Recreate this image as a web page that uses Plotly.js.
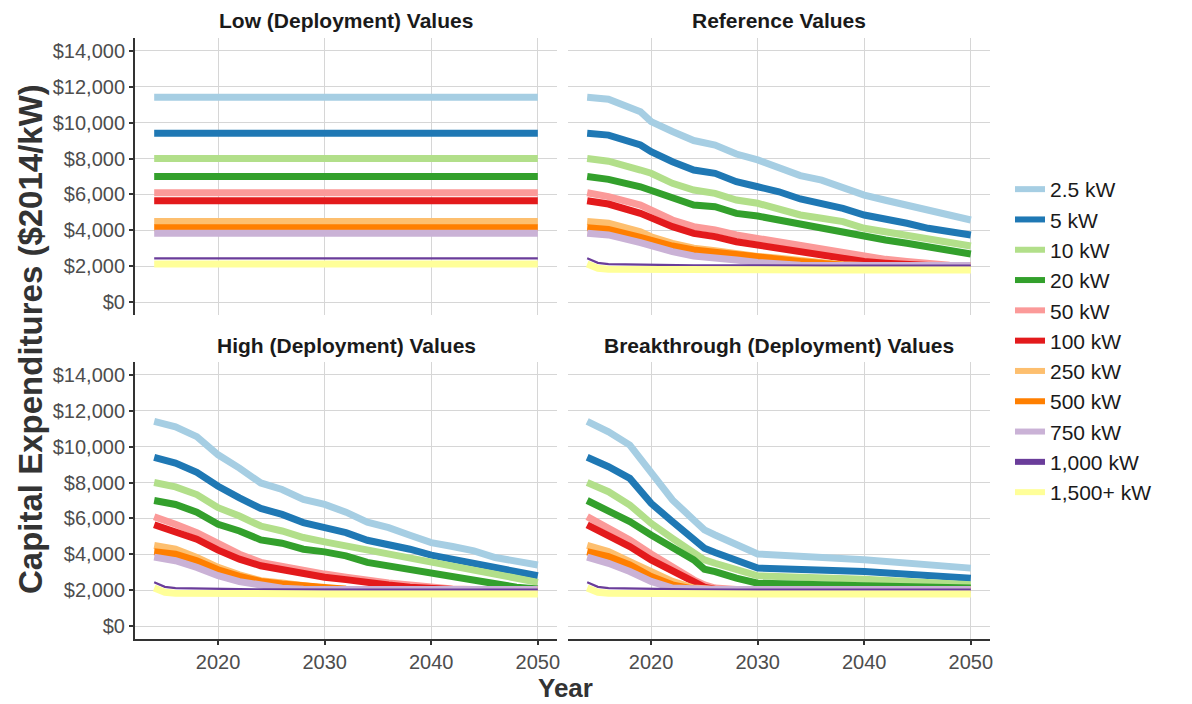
<!DOCTYPE html>
<html>
<head>
<meta charset="utf-8">
<script src="https://cdn.plot.ly/plotly-3.0.1.min.js"></script>
<style>html,body{margin:0;padding:0;background:#fff;}#chart{width:1192px;height:704px;}</style>
</head>
<body>
<div id="chart"></div>
<script>
// ---------- data ----------
const sizes = ['2.5 kW','5 kW','10 kW','20 kW','50 kW','100 kW','250 kW','500 kW','750 kW','1,000 kW','1,500+ kW'];
const panelTitles = ['Low (Deployment) Values','Reference Values','High (Deployment) Values','Breakthrough (Deployment) Values'];
const xTickVals = [2020, 2030, 2040, 2050];
const yTickVals = [0, 2000, 4000, 6000, 8000, 10000, 12000, 14000];
const yTickText = ['$0','$2,000','$4,000','$6,000','$8,000','$10,000','$12,000','$14,000'];

const lowYears = [2014, 2050];
const lowValues = [
  [11400, 11400], [9400, 9400], [8000, 8000], [7000, 7000], [6100, 6100], [5650, 5650],
  [4500, 4500], [4150, 4150], [3850, 3850], [2450, 2450], [2130, 2130]
];

const refYears = [2014,2015,2016,2019,2020,2022,2024,2026,2028,2030,2032,2034,2036,2038,2040,2042,2044,2046,2048,2050];
const refValues = [
  [11400,11350,11300,10600,10050,9500,9000,8750,8250,7920,7450,7050,6800,6350,5970,5680,5400,5050,4800,4580],
  [9400,9350,9300,8750,8380,7820,7360,7175,6710,6430,6150,5750,5510,5230,4860,4670,4400,4120,3930,3750],
  [8000,7930,7850,7360,7180,6620,6250,6060,5690,5510,5230,4860,4680,4490,4120,3930,3750,3560,3320,3135],
  [7000,6920,6840,6430,6210,5790,5415,5320,4950,4800,4580,4265,4060,3875,3620,3470,3285,3100,2880,2690],
  [6100,6000,5880,5415,5135,4580,4210,4030,3750,3560,3375,3100,2950,2765,2580,2395,2270,2150,2060,2050],
  [5650,5560,5470,4950,4670,4210,3840,3660,3375,3190,3010,2765,2640,2460,2270,2180,2090,2050,2050,2050],
  [4500,4450,4400,3930,3650,3285,3010,2880,2690,2550,2460,2330,2220,2100,2050,2050,2050,2050,2050,2050],
  [4150,4100,4060,3620,3430,3135,2915,2765,2640,2510,2400,2270,2140,2070,2050,2050,2050,2050,2050,2050],
  [3850,3800,3750,3320,3135,2820,2580,2510,2360,2220,2130,2070,2050,2050,2050,2050,2050,2050,2050,2050],
  [2450,2200,2130,2090,2080,2070,2060,2060,2050,2050,2050,2050,2050,2050,2050,2050,2050,2050,2050,2050],
  [2130,1900,1850,1830,1820,1810,1800,1800,1800,1800,1800,1800,1800,1800,1800,1800,1800,1800,1800,1800]
];

const highYears = [2014,2015,2016,2018,2020,2022,2024,2026,2028,2030,2032,2034,2036,2038,2040,2042,2044,2046,2048,2050];
const highValues = [
  [11400,11250,11100,10550,9540,8800,7975,7610,7055,6780,6350,5800,5490,5070,4660,4440,4200,3830,3590,3410],
  [9400,9250,9080,8565,7790,7150,6560,6225,5770,5490,5215,4790,4570,4290,3960,3740,3560,3340,3040,2820],
  [8000,7880,7755,7330,6600,6135,5580,5305,4940,4700,4475,4200,3960,3780,3560,3340,3150,2910,2675,2450],
  [7000,6890,6780,6353,5675,5305,4810,4625,4290,4145,3925,3560,3370,3190,2910,2765,2600,2360,2180,2080],
  [6100,5850,5675,5215,4570,4016,3560,3340,3040,2910,2730,2540,2410,2300,2180,2080,2050,2050,2050,2050],
  [5650,5450,5305,4845,4238,3740,3370,3150,2870,2730,2600,2410,2300,2180,2080,2050,2050,2050,2050,2050],
  [4500,4400,4290,3830,3280,2870,2540,2410,2230,2120,2070,2050,2050,2050,2050,2050,2050,2050,2050,2050],
  [4150,4080,4015,3650,3150,2780,2500,2360,2230,2120,2060,2050,2050,2050,2050,2050,2050,2050,2050,2050],
  [3850,3750,3650,3280,2820,2490,2270,2120,2060,2050,2050,2050,2050,2050,2050,2050,2050,2050,2050,2050],
  [2450,2200,2130,2100,2080,2070,2060,2050,2050,2050,2050,2050,2050,2050,2050,2050,2050,2050,2050,2050],
  [2130,1900,1850,1830,1820,1810,1800,1800,1800,1800,1800,1800,1800,1800,1800,1800,1800,1800,1800,1800]
];

const brkYears = [2014,2015,2016,2018,2020,2022,2024,2025,2026,2028,2030,2040,2050];
const brkValues = [
  [11400,11100,10820,10080,8600,7030,5920,5365,5085,4530,4030,3700,3240],
  [9400,9150,8880,8230,6840,5825,4810,4345,4105,3700,3240,3050,2680],
  [8000,7750,7490,6750,5730,4900,4070,3700,3510,3140,2810,2625,2310],
  [7000,6730,6470,5825,5085,4440,3700,3180,3050,2680,2400,2255,2130],
  [6100,5780,5455,4810,4030,3290,2590,2310,2130,2050,2050,2050,2050],
  [5650,5370,5085,4440,3700,3105,2500,2180,2050,2050,2050,2050,2050],
  [4500,4330,4160,3600,3000,2500,2130,2050,2050,2050,2050,2050,2050],
  [4150,4020,3880,3420,2775,2310,2070,2050,2050,2050,2050,2050,2050],
  [3850,3680,3510,3050,2500,2130,2050,2050,2050,2050,2050,2050,2050],
  [2450,2200,2130,2100,2080,2070,2060,2050,2050,2050,2050,2050,2050],
  [2130,1900,1850,1830,1820,1810,1800,1800,1800,1800,1800,1800,1800]
];

// ---------- styles ----------
const colors = ['#a6cee3','#1f78b4','#b2df8a','#33a02c','#fb9a99','#e31a1c','#fdbf6f','#ff7f00','#cab2d6','#6a3d9a','#ffff99'];
const lineWidths = [7,7,7,7,7,7,7,7,7,2.2,7];
const FONT = 'Liberation Sans, Arial, sans-serif';

const panels = [
  {years: lowYears,  values: lowValues,  xa: 'x',  ya: 'y'},
  {years: refYears,  values: refValues,  xa: 'x2', ya: 'y2'},
  {years: highYears, values: highValues, xa: 'x3', ya: 'y3'},
  {years: brkYears,  values: brkValues,  xa: 'x4', ya: 'y4'}
];

const traces = [];
panels.forEach(p => {
  sizes.forEach((s, i) => {
    traces.push({
      type: 'scatter', mode: 'lines', name: s, showlegend: false,
      x: p.years, y: p.values[i], xaxis: p.xa, yaxis: p.ya,
      line: {color: colors[i], width: lineWidths[i]},
      hoverinfo: 'x+y+name'
    });
  });
});
// legend entries
sizes.forEach((s, i) => {
  traces.push({
    type: 'scatter', mode: 'lines', name: s, showlegend: true,
    x: [null], y: [null], xaxis: 'x', yaxis: 'y',
    line: {color: colors[i], width: 6}
  });
});

const W = 1192, H = 704;
const xL = [135/W, 557/W], xR = [568/W, 990/W];
const yT = [(H-315)/H, (H-38)/H], yB = [(H-639)/H, (H-362)/H];
const xRange = [2012.2, 2051.8], yRange = [-700, 14700];
const yTickFont = {family: FONT, size: 20, color: '#4d4d4d'};
const xTickFont = {family: FONT, size: 20, color: '#4d4d4d'};

function xa(domain, bottom) {
  return {
    domain: domain, range: xRange,
    tickvals: xTickVals, ticktext: xTickVals.map(String),
    showgrid: true, gridcolor: '#d6d6d6', gridwidth: 1, zeroline: false,
    showline: bottom, linecolor: '#333333', linewidth: 2,
    ticks: bottom ? 'outside' : '', ticklen: 4, tickwidth: 1.5, tickcolor: '#333333',
    showticklabels: bottom, tickfont: xTickFont, fixedrange: true
  };
}
function ya(domain, left) {
  return {
    domain: domain, range: yRange,
    tickvals: yTickVals, ticktext: yTickText,
    showgrid: true, gridcolor: '#d6d6d6', gridwidth: 1, zeroline: false,
    showline: left, linecolor: '#333333', linewidth: 2,
    ticks: left ? 'outside' : '', ticklen: 4, tickwidth: 1.5, tickcolor: '#333333',
    showticklabels: left, tickfont: yTickFont, fixedrange: true
  };
}

const layout = {
  width: W, height: H,
  margin: {l: 0, r: 0, t: 0, b: 0},
  paper_bgcolor: '#ffffff', plot_bgcolor: '#ffffff',
  showlegend: true,
  legend: {
    x: 1010/W, xanchor: 'left', y: (H-341)/H, yanchor: 'middle',
    font: {family: FONT, size: 21, color: '#1a1a1a'},
    bgcolor: 'rgba(0,0,0,0)', itemwidth: 30, tracegroupgap: 0
  },
  xaxis:  Object.assign(xa(xL, false), {anchor: 'y'}),
  yaxis:  Object.assign(ya(yT, true),  {anchor: 'x'}),
  xaxis2: Object.assign(xa(xR, false), {anchor: 'y2'}),
  yaxis2: Object.assign(ya(yT, false), {anchor: 'x2'}),
  xaxis3: Object.assign(xa(xL, true),  {anchor: 'y3'}),
  yaxis3: Object.assign(ya(yB, true),  {anchor: 'x3'}),
  xaxis4: Object.assign(xa(xR, true),  {anchor: 'y4'}),
  yaxis4: Object.assign(ya(yB, false), {anchor: 'x4'}),
  annotations: [
    {text: panelTitles[0], x: (xL[0]+xL[1])/2, y: (H-20)/H},
    {text: panelTitles[1], x: (xR[0]+xR[1])/2, y: (H-20)/H},
    {text: panelTitles[2], x: (xL[0]+xL[1])/2, y: (H-345)/H},
    {text: panelTitles[3], x: (xR[0]+xR[1])/2, y: (H-345)/H}
  ].map(a => Object.assign(a, {
    xref: 'paper', yref: 'paper', xanchor: 'center', yanchor: 'middle', showarrow: false,
    font: {family: FONT, size: 21, color: '#1a1a1a', weight: 700}
  })).concat([
    {text: 'Capital Expenditures ($2014/kW)', xref: 'paper', yref: 'paper',
     x: 30/W, y: (H-339)/H, xanchor: 'center', yanchor: 'middle', textangle: -90, showarrow: false,
     font: {family: FONT, size: 33, color: '#333333', weight: 700}},
    {text: 'Year', xref: 'paper', yref: 'paper',
     x: 565/W, y: 0, xanchor: 'center', yanchor: 'bottom', showarrow: false, borderpad: 0,
     font: {family: FONT, size: 26, color: '#333333', weight: 700}}
  ])
};

Plotly.newPlot('chart', traces, layout, {displayModeBar: false});
</script>
</body>
</html>
